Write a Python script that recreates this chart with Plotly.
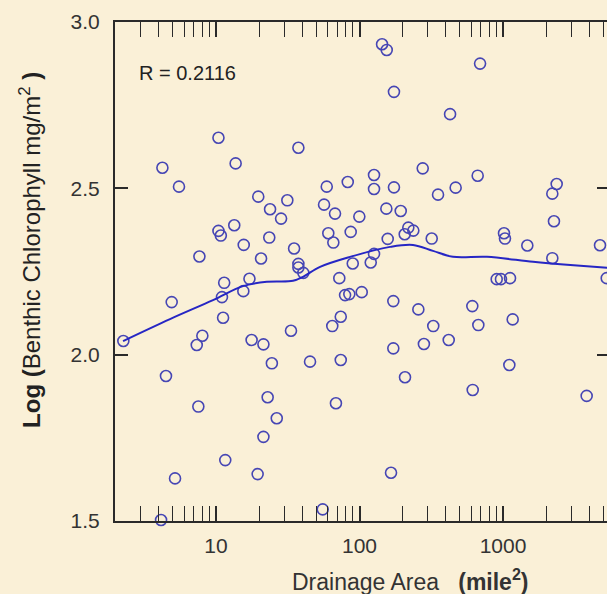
import plotly.graph_objects as go

# Observed data: drainage area (mile^2) and log benthic chlorophyll
area = [10.4, 4.23, 5.52, 13.7, 37.5, 19.7, 31.4, 23.8, 28.4, 10.4,
        10.8, 13.4, 23.5, 15.6, 7.66, 20.6, 35.0, 37.5, 37.5, 40.6,
        11.4, 17.1, 15.5, 11.0, 4.91, 2.26, 11.2, 8.03, 7.34, 17.7,
        21.4, 33.3, 24.5, 45.2, 4.48, 22.9, 7.53, 26.5, 21.4, 11.6,
        19.5, 5.18, 4.14, 55.4, 143.6, 154.7, 692, 173.8, 427.6, 275.7,
        666, 126.2, 59.1, 82.8, 126.2, 173.8, 467.7, 352.5, 2366, 2206,
        56.6, 67.5, 99.7, 153.8, 193.7, 2265, 60.6, 65.7, 86.8, 157.2,
        206.5, 218.8, 237.1, 318.5, 1016, 1032, 1477, 4742, 126.2, 119.7,
        89.7, 72.3, 2206, 903.5, 968, 1119, 5281, 79.3, 84.9, 103.6,
        172, 257, 611, 74, 64.6, 326.6, 673, 1168, 172, 281,
        418.4, 74, 207.5, 1107, 615, 3828, 68.5, 165.8]
chl = [2.652, 2.562, 2.505, 2.575, 2.622, 2.475, 2.464, 2.437, 2.409, 2.372,
       2.358, 2.389, 2.352, 2.330, 2.295, 2.289, 2.319, 2.273, 2.262, 2.246,
       2.216, 2.228, 2.191, 2.173, 2.158, 2.041, 2.111, 2.057, 2.029, 2.044,
       2.031, 2.072, 1.974, 1.979, 1.936, 1.872, 1.844, 1.809, 1.753, 1.683,
       1.641, 1.628, 1.503, 1.535, 2.933, 2.916, 2.875, 2.790, 2.723, 2.560,
       2.538, 2.540, 2.505, 2.519, 2.498, 2.503, 2.502, 2.481, 2.513, 2.484,
       2.451, 2.424, 2.415, 2.439, 2.432, 2.401, 2.365, 2.337, 2.369, 2.348,
       2.362, 2.382, 2.373, 2.349, 2.365, 2.349, 2.328, 2.329, 2.303, 2.277,
       2.274, 2.230, 2.290, 2.227, 2.227, 2.230, 2.230, 2.179, 2.182, 2.188,
       2.161, 2.136, 2.146, 2.114, 2.086, 2.086, 2.089, 2.106, 2.019, 2.032,
       2.044, 1.984, 1.932, 1.969, 1.894, 1.876, 1.854, 1.645]

# Smoothed (LOWESS-like) curve
smooth_x = [2.25, 4.78, 9.53, 15.4, 22.6, 34.4, 40.4, 53.1, 85.9, 163,
            236, 325, 448, 774, 1620, 2793, 5309]
smooth_y = [2.041, 2.107, 2.164, 2.206, 2.219, 2.222, 2.234, 2.264, 2.294, 2.324,
            2.330, 2.312, 2.294, 2.294, 2.279, 2.270, 2.261]

x_tickvals = [10, 100, 1000]
y_tickvals = [1.5, 2.0, 2.5, 3.0]
r_label = "R = 0.2116"

BG = "#FAF0D7"
AX = "#2a2a2a"
FONT = "Arial, Liberation Sans, sans-serif"

fig = go.Figure()
fig.add_trace(go.Scatter(
    x=area, y=chl, mode="markers",
    marker=dict(symbol="circle-open", size=11, color="#4646B4",
                line=dict(width=1.6, color="#4646B4")),
    showlegend=False, cliponaxis=False))
fig.add_trace(go.Scatter(
    x=smooth_x, y=smooth_y, mode="lines", line_shape="spline",
    line=dict(color="#2626C4", width=2), showlegend=False))
# invisible trace to anchor the right-side tick axis
fig.add_trace(go.Scatter(x=[smooth_x[0]], y=[smooth_y[0]], yaxis="y2",
                         mode="markers", marker=dict(opacity=0),
                         showlegend=False, hoverinfo="skip"))

fig.update_layout(
    width=607, height=594,
    margin=dict(l=115, r=0, t=22, b=73),
    paper_bgcolor=BG, plot_bgcolor=BG,
    font=dict(family=FONT, size=20, color="#333"),
    xaxis=dict(
        type="log", range=[0.296, 3.7247],
        tickvals=x_tickvals, ticktext=[str(v) for v in x_tickvals],
        ticks="inside", ticklen=15, tickwidth=1.5, tickcolor=AX,
        showline=True, linewidth=2, linecolor=AX, mirror="allticks",
        showgrid=False, zeroline=False, ticklabelstandoff=5,
        tickfont=dict(size=21, color="#333"),
        minor=dict(ticks="inside", ticklen=8, tickwidth=1.3, tickcolor=AX,
                   showgrid=False, dtick="D1"),
    ),
    yaxis=dict(
        range=[1.5, 3.0], tickvals=y_tickvals,
        ticktext=["%.1f" % v for v in y_tickvals],
        ticks="inside", ticklen=13, tickwidth=1.5, tickcolor=AX,
        showline=True, linewidth=2, linecolor=AX, mirror=False,
        showgrid=False, zeroline=False, ticklabelstandoff=9,
        tickfont=dict(size=21, color="#333"),
    ),
    yaxis2=dict(
        overlaying="y", side="right", range=[1.5, 3.0],
        tickvals=[2.0, 2.5], ticks="inside", ticklen=10, tickwidth=1.5,
        tickcolor=AX, showticklabels=False, showline=False,
        showgrid=False, zeroline=False,
    ),
    annotations=[
        dict(text=r_label, xref="paper", yref="paper", x=0.045, y=0.898,
             xanchor="left", yanchor="middle", showarrow=False,
             font=dict(size=20, color="#222")),
        dict(text="<b>Log (</b>Benthic Chlorophyll mg/m<sup>2</sup> <b>)</b>",
             xref="paper", yref="paper", x=-0.173, y=0.543, textangle=-90,
             xanchor="center", yanchor="middle", showarrow=False,
             font=dict(size=24, color="#222")),
        dict(text="Drainage Area   <b>(mile<sup>2</sup>)</b>",
             xref="paper", yref="paper", x=0.6016, y=-0.118,
             xanchor="center", yanchor="middle", showarrow=False,
             font=dict(size=23, color="#333")),
    ],
)

page_css = ("document.documentElement.style.background='%s';"
            "document.body.style.background='%s';"
            "document.body.style.margin='0';"
            "document.body.style.overflow='hidden';" % (BG, BG))

fig.write_html("out.html", post_script=page_css,
               config={"displayModeBar": False})
